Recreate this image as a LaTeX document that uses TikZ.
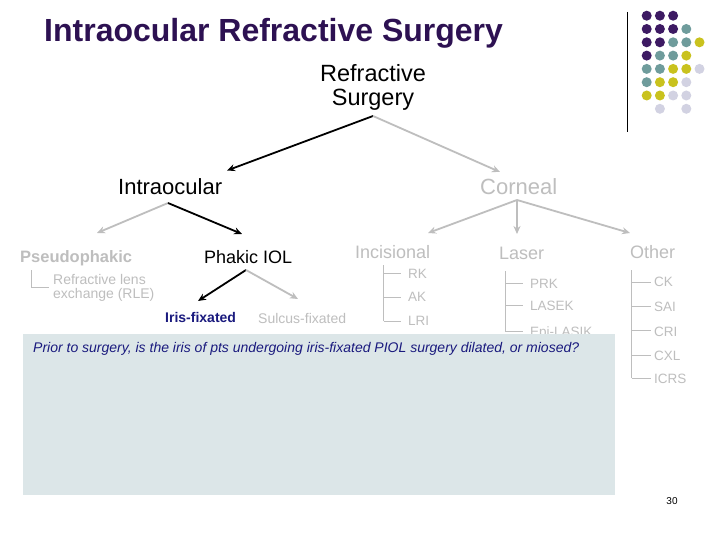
\documentclass[tikz,border=0pt]{standalone}
\usepackage{fontspec}
\setmainfont{Liberation Sans}
\usetikzlibrary{arrows.meta}
\definecolor{titlepurple}{HTML}{2D1152}
\definecolor{dotP}{HTML}{3D1A63}
\definecolor{dotT}{HTML}{6F9C9C}
\definecolor{dotY}{HTML}{C9C21E}
\definecolor{dotL}{HTML}{D2D2E2}
\definecolor{lgray}{HTML}{BEBEBE}
\definecolor{navy}{HTML}{1A1A7E}
\definecolor{boxfill}{HTML}{DCE6E8}
\begin{document}
\begin{tikzpicture}[x=1pt,y=-1pt,
  txt/.style={inner sep=0pt,font=\fontsize{#1}{#1}\selectfont},
  bigc/.style={txt=22,anchor=base west},
  midc/.style={txt=18,anchor=base west},
  subc/.style={txt=13.5,anchor=base west,text=lgray},
  blackarrow/.style={draw=black,line width=1.8pt,-{Stealth[length=8pt,width=7pt]}},
  grayarrow/.style={draw=lgray,line width=1.8pt,-{Stealth[length=8pt,width=7pt]}},
  tline/.style={draw=lgray,line width=0.9pt},
  dotc/.style={circle,fill=#1,draw=none,minimum size=10pt,inner sep=0pt}]
\useasboundingbox (0,0) rectangle (720,540);
\fill[white] (0,0) rectangle (720,540);

% title
\node[txt=32,anchor=base west,text=titlepurple,font=\fontsize{32}{36}\selectfont\bfseries] (title) at (44,42) {Intraocular Refractive Surgery};

% decorative dots
\draw[black,line width=1pt] (627.7,12) coordinate (vtop) -- (627.7,132) coordinate (vbot);
\foreach \c/\r/\col [count=\i] in {1/1/dotP,2/1/dotP,3/1/dotP,
  1/2/dotP,2/2/dotP,3/2/dotP,4/2/dotT,
  1/3/dotP,2/3/dotP,3/3/dotT,4/3/dotT,5/3/dotY,
  1/4/dotP,2/4/dotT,3/4/dotT,4/4/dotY,
  1/5/dotT,2/5/dotT,3/5/dotY,4/5/dotY,5/5/dotL,
  1/6/dotT,2/6/dotY,3/6/dotY,4/6/dotL,
  1/7/dotY,2/7/dotY,3/7/dotL,4/7/dotL,
  2/8/dotL,4/8/dotL}
  \node[dotc=\col] (dot\i) at ({646.7+13.2*(\c-1)},{15.7+13.3*(\r-1)}) {};

% top level
\node[txt=23.5,anchor=base] (rs1) at (373,81.5) {Refractive};
\node[txt=23.5,anchor=base] (rs2) at (373,105.5) {Surgery};
\coordinate (rsA) at (373,116);

\node[bigc] (intra) at (118,195) {Intraocular};
\node[bigc,text=lgray] (corn) at (480,195) {Corneal};
\coordinate (intraT) at (227,170.5);
\coordinate (cornT) at (500,172);
\draw[blackarrow] (rsA) -- (intraT);
\draw[grayarrow] (rsA) -- (cornT);

% intraocular branch
\coordinate (inA) at (168,203);
\node[txt=16.5,anchor=base west,text=lgray,font=\fontsize{16.5}{19}\selectfont\bfseries] (pseudo) at (20,262) {Pseudophakic};
\node[midc] (phakic) at (204,263.5) {Phakic IOL};
\coordinate (pseudoT) at (97,233);
\coordinate (phakicT) at (242,234);
\draw[grayarrow] (inA) -- (pseudoT);
\draw[blackarrow] (inA) -- (phakicT);

\node[txt=14,anchor=base west,text=lgray] (rle1) at (53,284) {Refractive lens};
\node[txt=14,anchor=base west,text=lgray] (rle2) at (53,298) {exchange (RLE)};
\coordinate (psA) at (31,270);
\coordinate (psB) at (31,287);
\coordinate (psC) at (49,287);
\draw[tline] (psA) -- (psB) -- (psC);

% phakic branch
\coordinate (phA) at (246,270);
\node[txt=14,anchor=base west,text=navy,font=\fontsize{14}{16}\selectfont\bfseries] (iris) at (165,322) {Iris-fixated};
\node[txt=14,anchor=base west,text=lgray] (sulcus) at (258,323) {Sulcus-fixated};
\coordinate (irisT) at (198,301);
\coordinate (sulcT) at (298,299);
\draw[blackarrow] (phA) -- (irisT);
\draw[grayarrow] (phA) -- (sulcT);

% corneal branch
\coordinate (coA) at (517,200);
\node[midc,text=lgray] (inc) at (355,258.5) {Incisional};
\node[midc,text=lgray] (laser) at (499,259.5) {Laser};
\node[midc,text=lgray] (other) at (630,258.5) {Other};
\coordinate (incT) at (428,233);
\coordinate (lasT) at (517,234);
\coordinate (othT) at (630,233);
\draw[grayarrow] (coA) -- (incT);
\draw[grayarrow] (coA) -- (lasT);
\draw[grayarrow] (coA) -- (othT);

% incisional list
\coordinate (incV) at (383.5,265);
\coordinate (incE) at (383.5,321);
\draw[tline] (incV) -- (incE);
\foreach \y/\t/\n/\b in {273/RK/rk/278,297/AK/ak/301.5,321/LRI/lri/325}{
  \coordinate (c\n) at (383.5,\y);
  \coordinate (e\n) at (401,\y);
  \draw[tline] (c\n) -- (e\n);
  \node[subc] (\n) at (408,\b) {\t};
}

% laser list
\coordinate (lasV) at (505,271);
\coordinate (lasE) at (505,331);
\draw[tline] (lasV) -- (lasE);
\foreach \y/\t/\n/\b in {283/PRK/prk/288,305/LASEK/lasek/310,331/Epi-LASIK/epi/336}{
  \coordinate (c\n) at (505,\y);
  \coordinate (e\n) at (523,\y);
  \draw[tline] (c\n) -- (e\n);
  \node[subc] (\n) at (530,\b) {\t};
}

% other list
\coordinate (othV) at (631.5,270);
\coordinate (othE) at (631.5,378);
\draw[tline] (othV) -- (othE);
\foreach \y/\t/\n/\b in {282/CK/ck/286.7,306/SAI/sai/311.5,330/CRI/cri/336,355/CXL/cxl/360.5,378/ICRS/icrs/383.3}{
  \coordinate (c\n) at (631.5,\y);
  \coordinate (e\n) at (651,\y);
  \draw[tline] (c\n) -- (e\n);
  \node[subc] (\n) at (654,\b) {\t};
}

% question box
\node[draw=none,fill=boxfill,minimum width=592pt,minimum height=161pt,anchor=north west,inner sep=0pt] (qbox) at (23,334) {};
\node[txt=14,anchor=base west,text=navy,font=\fontsize{14}{16}\selectfont\itshape] (question) at (33,352) {Prior to surgery, is the iris of pts undergoing iris-fixated PIOL surgery dilated, or miosed?};

% page number
\node[txt=10,anchor=base] (pnum) at (672,504) {30};
\end{tikzpicture}
\end{document}
